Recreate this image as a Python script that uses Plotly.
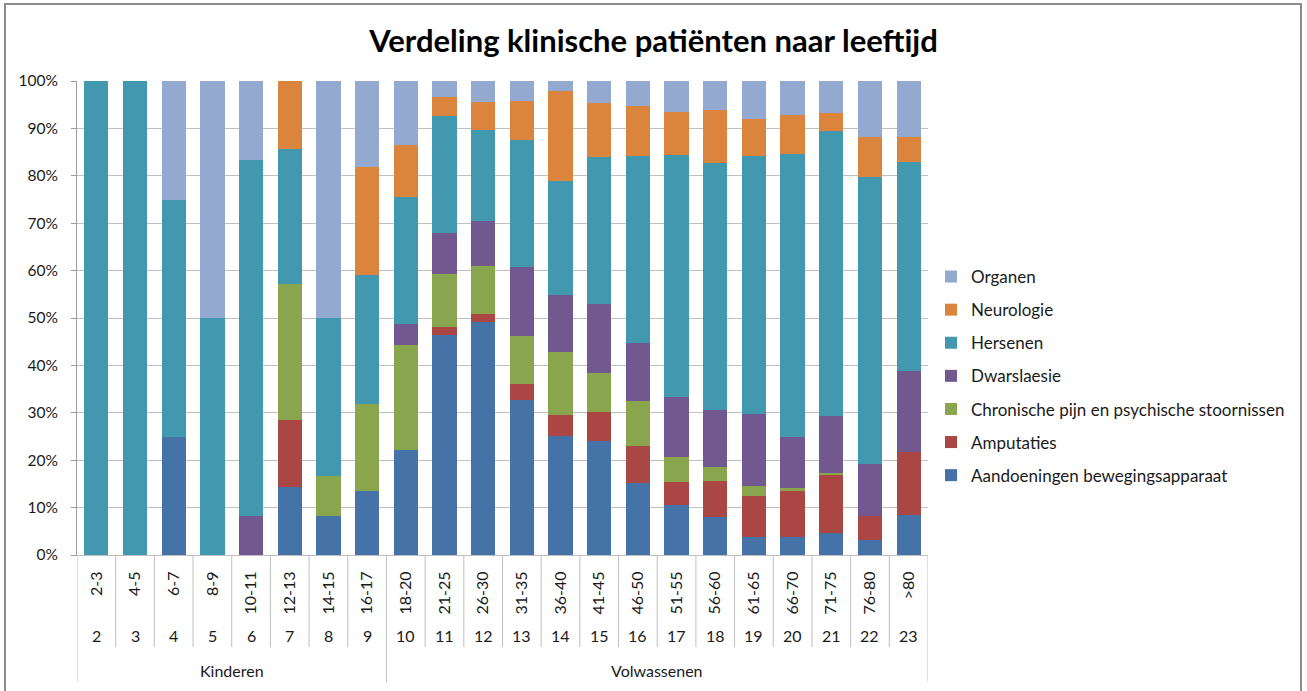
import plotly.graph_objects as go

# ---------------- data ----------------
age_groups = ["2-3", "4-5", "6-7", "8-9", "10-11", "12-13", "14-15", "16-17",
              "18-20", "21-25", "26-30", "31-35", "36-40", "41-45", "46-50",
              "51-55", "56-60", "61-65", "66-70", "71-75", "76-80", ">80"]
row_numbers = [str(n) for n in range(2, 24)]
group_names = ["Kinderen", "Volwassenen"]
group_sizes = [8, 14]

aandoeningen = [0, 0, 25, 0, 0, 14.3, 8.3, 13.6, 22.2, 46.4, 49.1, 32.8, 25.2, 24.1, 15.1, 10.5, 8.1, 3.7, 3.9, 4.7, 3.2, 8.4]
amputaties = [0, 0, 0, 0, 0, 14.3, 0, 0, 0, 1.6, 1.7, 3.3, 4.3, 6.1, 7.8, 4.8, 7.5, 8.7, 9.7, 12.3, 5.1, 13.4]
chronische = [0, 0, 0, 0, 0, 28.6, 8.3, 18.2, 22.2, 11.2, 10.2, 10.2, 13.3, 8.3, 9.6, 5.4, 2.9, 2.2, 0.5, 0.4, 0, 0]
dwarslaesie = [0, 0, 0, 0, 8.3, 0, 0, 0, 4.4, 8.8, 9.5, 14.4, 12.1, 14.4, 12.3, 12.6, 12.0, 15.1, 10.7, 12.0, 11.0, 17.1]
hersenen = [100, 100, 50, 50, 75, 28.6, 33.3, 27.3, 26.7, 24.6, 19.2, 26.9, 24.0, 31.1, 39.4, 51.1, 52.3, 54.5, 59.9, 60.1, 60.5, 44.1]
neurologie = [0, 0, 0, 0, 0, 14.3, 0, 22.7, 11.1, 4.0, 5.9, 8.2, 19.0, 11.4, 10.5, 9.1, 11.1, 7.7, 8.1, 3.8, 8.3, 5.1]
organen = [0, 0, 25, 50, 16.7, 0, 50, 18.2, 13.4, 3.4, 4.4, 4.2, 2.1, 4.6, 5.3, 6.5, 6.1, 8.1, 7.2, 6.7, 11.9, 11.9]

series_names = ["Aandoeningen bewegingsapparaat", "Amputaties",
                "Chronische pijn en psychische stoornissen", "Dwarslaesie",
                "Hersenen", "Neurologie", "Organen"]
series_values = [aandoeningen, amputaties, chronische, dwarslaesie,
                 hersenen, neurologie, organen]
series_colors = ["#4572A7", "#AA4643", "#89A54E", "#71588F",
                 "#4198AF", "#DB843D", "#93A9CF"]

title_text = "Verdeling klinische patiënten naar leeftijd"

# ---------------- layout geometry ----------------
W, H = 1307, 691
PL, PR, PT, PB = 77, 928, 81, 555  # plot area in pixels


def px_to_paper_x(px):
    return (px - PL) / (PR - PL)


def px_to_paper_y(py):
    return (PB - py) / (PB - PT)


FONT = "Lato, 'Open Sans', sans-serif"
TXT = "#1a1a1a"
GRID = "#BFBFBF"
AXIS = "#9A9A9A"

fig = go.Figure()
nser = len(series_names)
for i, (name, vals, col) in enumerate(zip(series_names, series_values, series_colors)):
    fig.add_trace(go.Bar(
        x=age_groups, y=vals, name=name, marker=dict(color=col, line=dict(width=0)),
        legendgroup=name, legendrank=1000 + (nser - i),
    ))

shapes = []
n = len(age_groups)
group_bounds = [0]
for s in group_sizes:
    group_bounds.append(group_bounds[-1] + s)
for k in range(n + 1):
    long = k in group_bounds
    shapes.append(dict(
        type="line", xref="x", yref="paper",
        x0=k - 0.5, x1=k - 0.5, y0=0,
        y1=px_to_paper_y(682 if long else 647),
        line=dict(color=GRID, width=1), layer="above",
    ))
# outer chart border
shapes.append(dict(
    type="rect", xref="paper", yref="paper",
    x0=px_to_paper_x(5), x1=px_to_paper_x(1301),
    y0=px_to_paper_y(720), y1=px_to_paper_y(4),
    line=dict(color="#8C8C8C", width=2), fillcolor="rgba(0,0,0,0)",
))

annotations = []
for i, num in enumerate(row_numbers):
    annotations.append(dict(
        x=age_groups[i], y=px_to_paper_y(635), xref="x", yref="paper",
        text=num, showarrow=False, xanchor="center", yanchor="middle",
        font=dict(family=FONT, size=16, color=TXT),
    ))
for gi, gname in enumerate(group_names):
    center = (group_bounds[gi] + group_bounds[gi + 1] - 1) / 2
    annotations.append(dict(
        x=center, y=px_to_paper_y(670), xref="x", yref="paper",
        text=gname, showarrow=False, xanchor="center", yanchor="middle",
        font=dict(family=FONT, size=16, color=TXT),
    ))

fig.update_layout(
    width=W, height=H,
    margin=dict(l=PL, r=W - PR, t=PT, b=H - PB, pad=0),
    paper_bgcolor="white", plot_bgcolor="white",
    barmode="stack", barnorm="percent", bargap=0.372,
    title=dict(text=f"<b>{title_text}</b>", x=0.5, xref="container", xanchor="center",
               y=1 - 41 / H, yref="container", yanchor="middle",
               font=dict(family=FONT, size=31, color="#000000")),
    font=dict(family=FONT, size=15, color=TXT),
    xaxis=dict(
        type="category", categoryorder="array", categoryarray=age_groups,
        range=[-0.5, n - 0.5], tickangle=-90, ticks="", showgrid=False,
        showline=True, linecolor=GRID, linewidth=1,
        tickfont=dict(family=FONT, size=16, color=TXT),
        ticklabelstandoff=9,
    ),
    yaxis=dict(
        range=[0, 100], dtick=10, ticksuffix="%", showgrid=True, gridcolor=GRID,
        gridwidth=1, showline=True, linecolor=AXIS, linewidth=1,
        ticks="outside", ticklen=5, tickcolor=AXIS,
        tickfont=dict(family=FONT, size=15.5, color=TXT), zeroline=False,
        ticklabelstandoff=10,
    ),
    legend=dict(
        x=px_to_paper_x(931), xanchor="left", y=px_to_paper_y(259), yanchor="top",
        traceorder="grouped", tracegroupgap=8,
        font=dict(family=FONT, size=17, color=TXT), itemwidth=30,
        bgcolor="rgba(0,0,0,0)",
    ),
    shapes=shapes, annotations=annotations,
    showlegend=True,
)

fig.write_html("out.html", config={"displayModeBar": False},
               post_script="document.body.style.margin='0px';")
